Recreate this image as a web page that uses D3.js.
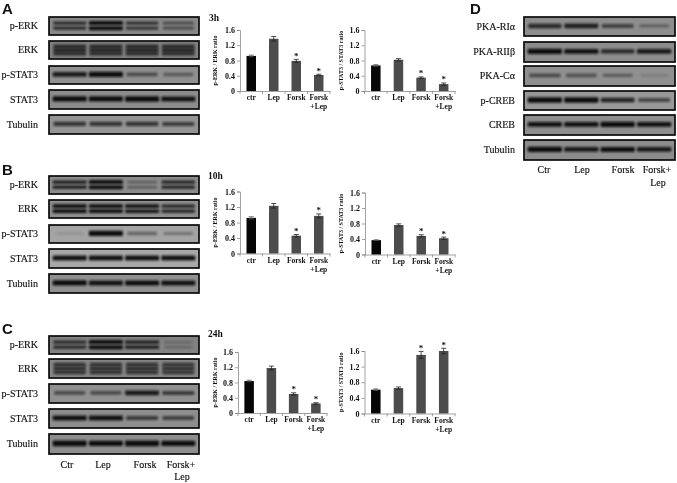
<!DOCTYPE html>
<html><head><meta charset="utf-8">
<script src="https://cdn.jsdelivr.net/npm/d3@7"></script>
<style>html,body{margin:0;padding:0;background:#fff}svg{display:block}text{font-family:"Liberation Serif",serif;fill:#111}#root{opacity:.995}</style>
</head><body><svg id="c" width="677" height="483"></svg>
<script>
// ---- bar chart data ----
const categories = ["ctr","Lep","Forsk","Forsk\n+Lep"];
const yTicks = [0,0.4,0.8,1.2,1.6];
const erkLabel = "p-ERK / ERK ratio";
const statLabel = "p-STAT3 / STAT3 ratio";
const a3hErk = [0.92,1.37,0.79,0.42];   const a3hErkErr = [0.02,0.06,0.04,0.02];
const a3hStat = [0.67,0.82,0.35,0.18];  const a3hStatErr = [0.02,0.03,0.02,0.03];
const b10hErk = [0.92,1.23,0.46,0.97];  const b10hErkErr = [0.03,0.06,0.03,0.05];
const b10hStat = [0.37,0.76,0.48,0.42]; const b10hStatErr = [0.01,0.03,0.03,0.03];
const c24hErk = [0.84,1.18,0.50,0.25];  const c24hErkErr = [0.02,0.05,0.03,0.02];
const c24hStat = [0.61,0.65,1.50,1.60]; const c24hStatErr = [0.02,0.03,0.09,0.07];
const aErkStars = [0,0,1,1], aStatStars = [0,0,1,1];
const bErkStars = [0,0,1,1], bStatStars = [0,0,1,1];
const cErkStars = [0,0,1,1], cStatStars = [0,0,1,1];
// ---- blot data: band strength per lane ----
const blotLanes = ["Ctr","Lep","Forsk","Forsk+"];
const rowsABC = ["p-ERK","ERK","p-STAT3","STAT3","Tubulin"];
const rowsD = ["PKA-RI\u03b1","PKA-RII\u03b2","PKA-C\u03b1","p-CREB","CREB","Tubulin"];
const blotA = [[.65,1,.6,.45],[.62,.62,.62,.62],[.75,.9,.45,.35],[.9,.9,.95,.8],[.6,.6,.6,.55]];
const blotB = [[.75,1,.35,.7],[.85,.85,.8,.7],[.1,.9,.35,.28],[.8,.8,.8,.8],[.9,.8,.85,.8]];
const blotC = [[.65,1,.75,.22],[.58,.58,.58,.55],[.45,.45,.75,.55],[.8,.8,.55,.5],[1,.9,1,.9]];
const blotD = [[.65,.72,.5,.3],[.85,.8,.65,.75],[.45,.4,.33,.12],[1,1,.7,.5],[.8,.8,.88,.8],[.88,.75,.82,.75]];
const bandsA = [2,3,1,1,1], bandsB = [2,2,1,1,1], bandsC = [2,3,1,1,1], bandsD = [1,1,1,1,1,1];
const shadesA = ["#888888","#808080","#909090","#8c8c8c","#949494"];
const shadesB = ["#8c8c8c","#8e8e8e","#a4a4a4","#a8a8a8","#909090"];
const shadesC = ["#828282","#868686","#909090","#8e8e8e","#8e8e8e"];
const shadesD = ["#8e8e8e","#8c8c8c","#909090","#989898","#8e8e8e","#8c8c8c"];

const svg = d3.select("#c").append("g").attr("id","root");
const defs = svg.append("defs");
defs.append("filter").attr("id","blur").attr("x","-10%").attr("y","-100%").attr("width","120%").attr("height","300%")
  .append("feGaussianBlur").attr("stdDeviation","1.3 0.8");

function blot(x0,x1,tops,heights,labels,vals,counts,shades,labelX){
  const lane = d3.scaleBand().domain(d3.range(4)).range([x0+3,x1-3]).paddingInner(.06).paddingOuter(.02);
  labels.forEach((lab,i)=>{
    const g = svg.append("g");
    const h = heights[i], y=tops[i];
    g.append("clipPath").attr("id",`cl${x0}-${y}`).append("rect").attr("x",x0).attr("y",y).attr("width",x1-x0).attr("height",h);
    g.append("rect").attr("x",x0).attr("y",y).attr("width",x1-x0).attr("height",h).attr("fill",shades[i]);
    const inner = g.append("g").attr("clip-path",`url(#cl${x0}-${y})`);
    const n = counts[i];
    const fracs = n===1?[.47]:n===2?[.34,.62]:[.3,.5,.7];
    vals[i].forEach((v,l)=>{
      fracs.forEach(f=>{
        const hh = n===1?2.2+v*3.4:n===2?1.6+v*2.4:2.8+v*1.8;
        const inset = (1-Math.min(1,v+.25))*5;
        inner.append("rect").attr("x",lane(l)+inset).attr("width",lane.bandwidth()-2*inset)
          .attr("y",y+h*f-hh/2).attr("height",hh)
          .attr("rx",1.2).attr("fill","#0e0e0e").attr("opacity",Math.min(1,v*1.2)).attr("filter","url(#blur)");
      });
    });
    g.append("rect").attr("x",x0).attr("y",y).attr("width",x1-x0).attr("height",h).attr("fill","none").attr("stroke","#0a0a0a").attr("stroke-width",1.7);
    svg.append("text").attr("x",labelX).attr("y",y+h/2+3).attr("text-anchor","end").attr("font-size",10).attr("stroke","#111").attr("stroke-width",.15).text(lab);
  });
}
const hABC = [[18,18,18,19,19],[18,18,18,19,19],[18,19,19,19,20]];
blot(49,199,[17,41,66,90,115],hABC[0],rowsABC,blotA,bandsA,shadesA,38);
blot(49,199,[176,200,225,249,274],hABC[1],rowsABC,blotB,bandsB,shadesB,38);
blot(49,199,[336,359,384,409,434],hABC[2],rowsABC,blotC,bandsC,shadesC,38);
blot(524,675,[17,42,66,91,115,140],[19,20,20,19,20,20],rowsD,blotD,bandsD,shadesD,515);

function laneLabels(xs,y,second,secondX,secondY){
  blotLanes.forEach((t,i)=>svg.append("text").attr("x",xs[i]).attr("y",y).attr("text-anchor","middle").attr("font-size",10).attr("stroke","#111").attr("stroke-width",.15).text(t));
  svg.append("text").attr("x",secondX).attr("y",secondY).attr("text-anchor","middle").attr("font-size",10).attr("stroke","#111").attr("stroke-width",.15).text(second);
}
laneLabels([67,103,145,181],468,"Lep",182,480);
laneLabels([544,582,623,657],173,"Lep",658,186);

function chart(axisX,endX,base,top,vals,errs,stars,label,labelX){
  const x = d3.scaleBand().domain(categories).range([axisX,endX]);
  const y = d3.scaleLinear().domain([0,1.6]).range([base,top]);
  const g = svg.append("g");
  const ax = g.append("g").attr("transform",`translate(${axisX},0)`)
    .call(d3.axisLeft(y).tickValues(yTicks).tickSize(3).tickPadding(2).tickFormat(d=>d===0?"0":d3.format(".1f")(d)));
  ax.selectAll("path,line").attr("stroke","#8a8a8a").attr("stroke-width",.8);
  ax.selectAll("text").attr("font-size",8).attr("font-weight","bold").style("font-family","Liberation Serif");
  const bx = g.append("g").attr("transform",`translate(0,${base})`).call(d3.axisBottom(x).tickSize(0).tickPadding(6).tickFormat(""));
  bx.selectAll("path").attr("stroke","#8a8a8a").attr("stroke-width",.8);
  g.selectAll(".bt").data(d3.range(5)).join("line")
    .attr("x1",i=>axisX+x.step()*i).attr("x2",i=>axisX+x.step()*i).attr("y1",base).attr("y2",base+3)
    .attr("stroke","#8a8a8a").attr("stroke-width",.8);
  bx.selectAll(".tick").each(function(d){
    const t = d3.select(this).select("text").text(null).attr("font-size",7.5).attr("font-weight","bold").style("font-family","Liberation Serif");
    d.split("\n").forEach((s,i)=>t.append("tspan").attr("x",0).attr("y",9+i*9.3).attr("dy",0).text(s));
  });
  const bw = 9.5;
  g.selectAll(".bar").data(vals).join("rect")
    .attr("x",(d,i)=>x(categories[i])+x.bandwidth()/2-bw/2).attr("width",bw)
    .attr("y",d=>y(d)).attr("height",d=>base-y(d))
    .attr("fill",(d,i)=>i===0?"#060606":"#4c4c4c");
  vals.forEach((v,i)=>{
    const cx = x(categories[i])+x.bandwidth()/2, e=errs[i];
    g.append("path").attr("d",`M${cx-2.5},${y(v+e)}H${cx+2.5}M${cx},${y(v+e)}V${y(v-e)}M${cx-2.5},${y(v-e)}H${cx+2.5}`)
      .attr("stroke",i===0?"#555":"#222").attr("stroke-width",.8).attr("fill","none");
    if(stars[i]) g.append("text").attr("x",cx).attr("y",y(v+e)-0.5).attr("text-anchor","middle").attr("font-size",9).attr("font-weight","bold").attr("fill","#333").text("*");
  });
  svg.append("text").attr("transform",`translate(${labelX},${(base+top)/2}) rotate(-90)`).attr("text-anchor","middle")
    .attr("font-size",6).attr("font-weight","bold").text(label);
}
chart(240,330,91,30,a3hErk,a3hErkErr,aErkStars,erkLabel,217);
chart(364.5,455,91,30,a3hStat,a3hStatErr,aStatStars,statLabel,343);
chart(240,330,253.5,191.5,b10hErk,b10hErkErr,bErkStars,erkLabel,217);
chart(365,455,254.5,192.5,b10hStat,b10hStatErr,bStatStars,statLabel,343);
chart(238,327,413,352,c24hErk,c24hErkErr,cErkStars,erkLabel,217);
chart(364.5,455,413.5,351,c24hStat,c24hStatErr,cStatStars,statLabel,343);

[["A",2,14],["B",2,175],["C",2,334],["D",470,14]].forEach(([t,x,y])=>
  svg.append("text").attr("x",x).attr("y",y).attr("font-size",15).attr("font-weight","bold").style("font-family","Liberation Sans").text(t));
[["3h",209,21],["10h",208,179],["24h",208,337]].forEach(([t,x,y])=>
  svg.append("text").attr("x",x).attr("y",y).attr("font-size",9.5).attr("font-weight","bold").text(t));
</script></body></html>
